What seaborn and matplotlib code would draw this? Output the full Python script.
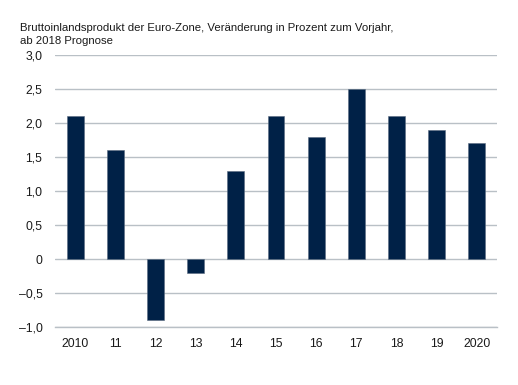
import numpy as np
import pandas as pd
import matplotlib
matplotlib.use('Agg')
import matplotlib.pyplot as plt
import seaborn as sns
from matplotlib.ticker import FixedLocator

sns.set_style('white')
plt.rcParams['font.family'] = ['Liberation Sans', 'DejaVu Sans']

# ---- Data ----
years = ['2010', '11', '12', '13', '14', '15', '16', '17', '18', '19', '2020']
growth = [2.1, 1.6, -0.9, -0.2, 1.3, 2.1, 1.8, 2.5, 2.1, 1.9, 1.7]
y_ticks = [-1.0, -0.5, 0.0, 0.5, 1.0, 1.5, 2.0, 2.5, 3.0]
y_labels = ['\u20131,0', '\u20130,5', '0', '0,5', '1,0', '1,5', '2,0', '2,5', '3,0']

df = pd.DataFrame({'Jahr': years, 'BIP': growth})

grid_col = '#b9c0c6'
bar_col = '#002147'
text_col = '#1a1a1a'

fig = plt.figure(figsize=(5.18, 3.85), dpi=100)
ax = fig.add_axes([55 / 518, 1 - 327 / 385, 442 / 518, 272 / 385])

sns.barplot(data=df, x='Jahr', y='BIP', color=bar_col, width=0.42,
            saturation=1, edgecolor='#5a6b80', linewidth=0.4, ax=ax, zorder=3)

ax.set_ylim(-1.0, 3.0)
ax.set_xlim(-0.5, len(years) - 0.5)
ax.set_yticks(y_ticks)
ax.set_yticklabels(y_labels)
ax.yaxis.grid(True, color=grid_col, linewidth=1.0, zorder=0)
ax.set_axisbelow(True)

for s in ['top', 'right', 'left']:
    ax.spines[s].set_visible(False)
ax.spines['bottom'].set_color(grid_col)
ax.spines['bottom'].set_linewidth(1.0)

# category separators below the axis
ax.xaxis.set_minor_locator(FixedLocator(np.arange(-0.5, len(years), 1.0)))
ax.tick_params(axis='x', which='minor', length=4.5, width=1.0, color=grid_col)
ax.tick_params(axis='x', which='major', length=0, pad=8, labelsize=8.8, labelcolor=text_col)
ax.tick_params(axis='y', length=7, width=1.0, color=grid_col, pad=2,
               labelsize=8.8, labelcolor=text_col)
ax.set_xlabel('')
ax.set_ylabel('')

fig.text(20 / 518, 1 - 44 / 385,
         'Bruttoinlandsprodukt der Euro-Zone, Veränderung in Prozent zum Vorjahr,\nab 2018 Prognose',
         fontsize=8.2, color=text_col, va='baseline', ha='left', linespacing=1.32)

fig.savefig('out.png', dpi=100)
